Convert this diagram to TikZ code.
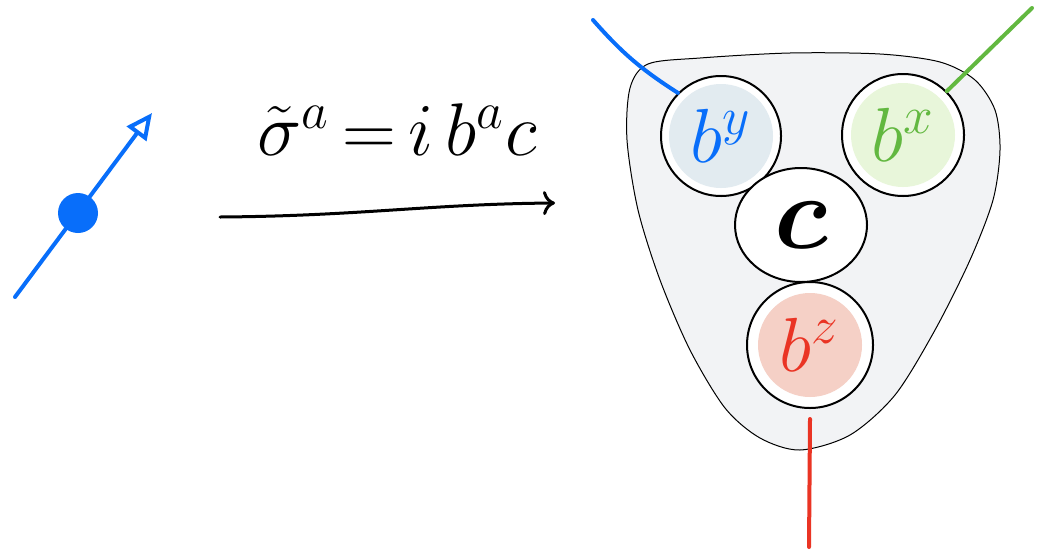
\documentclass[tikz,border=0pt]{standalone}
\usepackage{amsmath,amssymb,bm}
\usetikzlibrary{arrows.meta,shapes.geometric}
\definecolor{spinblue}{RGB}{8,110,250}
\definecolor{xgreen}{RGB}{98,184,64}
\definecolor{zred}{RGB}{234,52,36}
\definecolor{yfill}{RGB}{226,235,240}
\definecolor{xfill}{RGB}{232,246,218}
\definecolor{zfill}{RGB}{245,208,198}
\definecolor{boxgray}{RGB}{242,243,245}
\newcommand{\bigtext}[2][1.85]{\scalebox{#1}{#2}}

\begin{document}
\begin{tikzpicture}[x=0.5pt,y=-0.5pt,
  ball/.style={circle,draw=black,line width=1pt,fill=white,minimum size=#1},
  inner/.style={path picture={\fill[#1] (path picture bounding box.center) circle (26pt);}},
  leg/.style={line width=2pt,line cap=round},
  big/.style={font=\huge}]
\useasboundingbox (0,0) rectangle (1042,552);

% the spin on the left
\coordinate (tail) at (15,297);
\coordinate (head) at (152,113);
\draw[spinblue,line width=2pt,line cap=round,-{Triangle[open,length=13pt,width=12pt,line width=2pt]}] (tail) -- (head);
\node[circle,fill=spinblue,minimum size=20pt,inner sep=0pt] (dot) at (78,213) {};

% the map
\coordinate (mapstart) at (220,217);
\coordinate (mapend) at (555,203);
\draw[line width=1.5pt,line cap=round,-{To[length=6pt,width=12pt]}] (mapstart) .. controls (360,216) and (430,204) .. (mapend);
\node[big] (eq) at (397,130) {\bigtext[1.8]{$\tilde{\sigma}^{a}\,{=}\,i\,b^{a}c$}};

% the three Majoranas and c
\filldraw[fill=boxgray,draw=black,line width=0.5pt] plot[smooth cycle,tension=0.5] coordinates
  {(630,88) (648,64) (700,58) (790,53) (880,54) (940,62) (975,80) (995,110) (1000,150) (993,200)
   (970,260) (935,330) (895,395) (850,435) (800,450) (760,438) (725,408) (690,350) (660,280) (638,210) (627,140)};

\node[ball=60pt,inner={yfill},text=spinblue,big] (by) at (721,136) {\bigtext{$b^{y}$}};
\node[ball=61pt,inner={xfill},text=xgreen,big] (bx) at (903,135) {\bigtext{$b^{x}$}};
\node[ellipse,draw=black,line width=1pt,fill=white,minimum width=66pt,minimum height=57pt,
  font=\Huge\boldmath] (c) at (801,225) {\bigtext[2.1]{$c$}};
\node[ball=63pt,inner={zfill},text=zred,big] (bz) at (810,345) {\bigtext{$b^{z}$}};

\coordinate (yend) at (593,20);
\coordinate (xend) at (1032,8);
\coordinate (zend) at (809,547);
\draw[leg,spinblue] (by.135) to[bend left=8] (yend);
\draw[leg,xgreen] (bx.45) -- (xend);
\draw[leg,zred] ([yshift=-5pt]bz.south) -- (zend);
\end{tikzpicture}
\end{document}
